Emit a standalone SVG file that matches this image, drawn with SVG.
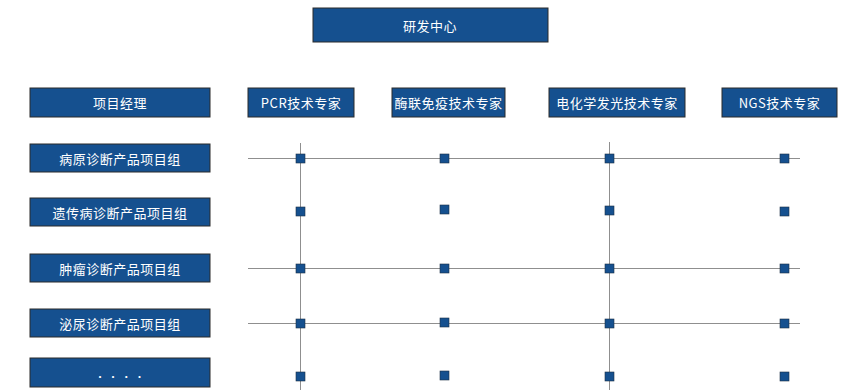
<svg xmlns="http://www.w3.org/2000/svg" width="842" height="390" viewBox="0 0 842 390">
<style>
.box{fill:#15508f;stroke:#2b2b2b;stroke-width:1}
.t{fill:#ffffff;font-family:"Noto Sans CJK SC","Liberation Sans",sans-serif;font-size:13px;letter-spacing:0.5px;text-anchor:middle;dominant-baseline:central}
.ln{stroke:#8f8f8f;stroke-width:1;fill:none}
.sq{fill:#15508f;stroke:#1d2f45;stroke-width:0.6}
</style>
<rect width="842" height="390" fill="#ffffff"/>
<g id="connectors">
<line class="ln" x1="248" y1="158.5" x2="800" y2="158.5"/>
<line class="ln" x1="248" y1="268.5" x2="800" y2="268.5"/>
<line class="ln" x1="248" y1="323.5" x2="800" y2="323.5"/>
<line class="ln" x1="300.5" y1="143" x2="300.5" y2="390"/>
<line class="ln" x1="609.5" y1="142" x2="609.5" y2="390"/>
</g>
<g id="top"><rect class="box" x="313" y="8" width="235" height="34"/><text class="t" x="430" y="25">研发中心</text></g>
<g id="pm"><rect class="box" x="30" y="88" width="180" height="29"/><text class="t" x="120" y="102.5">项目经理</text></g>
<g id="col-pcr"><rect class="box" x="248" y="88" width="106" height="29"/><text class="t" x="301" y="102.5">PCR技术专家</text></g>
<g id="col-2"><rect class="box" x="392" y="88" width="113" height="29"/><text class="t" x="448.5" y="102.5">酶联免疫技术专家</text></g>
<g id="col-3"><rect class="box" x="549" y="88" width="136" height="29"/><text class="t" x="617" y="102.5">电化学发光技术专家</text></g>
<g id="col-ngs"><rect class="box" x="722" y="88" width="115" height="29"/><text class="t" x="779.5" y="102.5">NGS技术专家</text></g>
<g id="row-1"><rect class="box" x="30" y="144" width="180" height="28"/><text class="t" x="120" y="158">病原诊断产品项目组</text></g>
<g id="row-2"><rect class="box" x="30" y="198" width="180" height="28"/><text class="t" x="120" y="212">遗传病诊断产品项目组</text></g>
<g id="row-3"><rect class="box" x="30" y="254" width="180" height="28"/><text class="t" x="120" y="268">肿瘤诊断产品项目组</text></g>
<g id="row-4"><rect class="box" x="30" y="309" width="180" height="28"/><text class="t" x="120" y="323">泌尿诊断产品项目组</text></g>
<g id="row-5"><rect class="box" x="30" y="358" width="180" height="29"/><text class="t" x="120" y="376" style="font-size:10px">· · · ·</text></g>
<g id="cells">
<rect class="sq" x="296" y="154" width="9" height="9"/><rect class="sq" x="440" y="154" width="9" height="9"/><rect class="sq" x="605" y="154" width="9" height="9"/><rect class="sq" x="780" y="154" width="9" height="9"/>
<rect class="sq" x="296" y="207" width="9" height="9"/><rect class="sq" x="440" y="205" width="9" height="9"/><rect class="sq" x="605" y="206" width="9" height="9"/><rect class="sq" x="780" y="207" width="9" height="9"/>
<rect class="sq" x="296" y="264" width="9" height="9"/><rect class="sq" x="440" y="264" width="9" height="9"/><rect class="sq" x="605" y="264" width="9" height="9"/><rect class="sq" x="780" y="264" width="9" height="9"/>
<rect class="sq" x="296" y="319" width="9" height="9"/><rect class="sq" x="440" y="318" width="9" height="9"/><rect class="sq" x="605" y="319" width="9" height="9"/><rect class="sq" x="780" y="319" width="9" height="9"/>
<rect class="sq" x="296" y="372" width="9" height="9"/><rect class="sq" x="440" y="371" width="9" height="9"/><rect class="sq" x="605" y="372" width="9" height="9"/><rect class="sq" x="780" y="372" width="9" height="9"/>
</g>
</svg>
